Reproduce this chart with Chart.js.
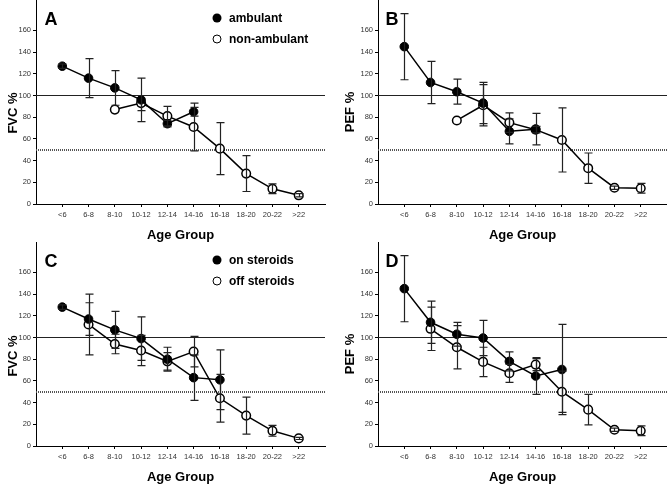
<!DOCTYPE html>
<html>
<head>
<meta charset="utf-8">
<script src="https://cdn.jsdelivr.net/npm/chart.js@4/dist/chart.umd.min.js"></script>
<style>
  body { margin: 0; background: #fff; }
  #wrap { position: relative; width: 667px; height: 484px; font-family: "Liberation Sans", Arial, sans-serif; color: #000; }
  canvas { position: absolute; }
  .ytitle { position: absolute; font-weight: bold; font-size: 13px; line-height: 1; white-space: nowrap; transform: translate(-50%, -50%) rotate(-90deg); }
  .letter { position: absolute; font-weight: bold; font-size: 18px; line-height: 1; transform: translate(-50%, -50%); }
  .dot { position: absolute; width: 9px; height: 9px; border-radius: 50%; box-sizing: border-box; transform: translate(-50%, -50%); }
  .fill { background: #000; }
  .open { background: #fff; border: 1.6px solid #000; }
  .legtxt { position: absolute; font-weight: bold; font-size: 12px; line-height: 1; white-space: nowrap; transform: translateY(-50%); }
</style>
</head>
<body>
<div id="wrap">
  <canvas id="chartA" width="333" height="242" style="left:0;top:0"></canvas>
  <canvas id="chartB" width="334" height="242" style="left:333px;top:0"></canvas>
  <canvas id="chartC" width="333" height="242" style="left:0;top:242px"></canvas>
  <canvas id="chartD" width="334" height="242" style="left:333px;top:242px"></canvas>

  <div class="ytitle" style="left:12px;top:113px">FVC %</div>
  <div class="ytitle" style="left:349px;top:112px">PEF %</div>
  <div class="ytitle" style="left:12px;top:356px">FVC %</div>
  <div class="ytitle" style="left:349px;top:354px">PEF %</div>

  <div class="letter" style="left:51px;top:19px">A</div>
  <div class="letter" style="left:392px;top:19px">B</div>
  <div class="letter" style="left:51px;top:261px">C</div>
  <div class="letter" style="left:392px;top:261px">D</div>

  <div class="dot fill" style="left:217px;top:18px"></div>
  <div class="legtxt" style="left:229px;top:18px">ambulant</div>
  <div class="dot open" style="left:217px;top:39px"></div>
  <div class="legtxt" style="left:229px;top:39px">non-ambulant</div>

  <div class="dot fill" style="left:217px;top:260px"></div>
  <div class="legtxt" style="left:229px;top:260px">on steroids</div>
  <div class="dot open" style="left:217px;top:281px"></div>
  <div class="legtxt" style="left:229px;top:281px">off steroids</div>
</div>

<script>
// x categories
const ageGroups = ['<6', '6-8', '8-10', '10-12', '12-14', '14-16', '16-18', '18-20', '20-22', '>22'];
const yTicks = [0, 20, 40, 60, 80, 100, 120, 140, 160];

// A: FVC, ambulant vs non-ambulant (mean, error)
const fvcAmbulant = [127, 116, 107, 96, 74, 85, null, null, null, null];
const fvcAmbulantErr = [2, 18, 16, 20, 3, 4, 0, 0, 0, 0];
const fvcNonAmbulant = [null, null, 87, 93, 81, 71, 51, 28, 14, 8];
const fvcNonAmbulantErr = [0, 0, 0, 7, 9, 22, 24, 16.5, 4.5, 1.5];

// B: PEF, ambulant vs non-ambulant
const pefAmbulant = [145, 112, 103.5, 93, 67, 69, null, null, null, null];
const pefAmbulantErr = [30.5, 19.5, 11.5, 19, 11.5, 14.5, 0, 0, 0, 0];
const pefNonAmbulant = [null, null, 77, 91, 75, 68.5, 59, 33, 15, 14.5];
const pefNonAmbulantErr = [0, 0, 0, 19, 9, 3, 29.5, 14, 1.5, 4.5];

// C: FVC, on vs off steroids
const fvcOnSteroids = [128, 117, 107, 99, 80, 63, 61, null, null, null];
const fvcOnSteroidsErr = [2, 15, 17, 20, 11, 21, 27.5, 0, 0, 0];
const fvcOffSteroids = [null, 112, 94, 88, 78, 87, 44, 28, 14, 7];
const fvcOffSteroidsErr = [0, 28, 9, 14, 8, 14, 22, 17, 5, 1];

// D: PEF, on vs off steroids
const pefOnSteroids = [145, 114, 103, 99.5, 78, 64.5, 70.5, null, null, null];
const pefOnSteroidsErr = [30.5, 19.5, 11, 16.3, 8.7, 17, 41.5, 0, 0, 0];
const pefOffSteroids = [null, 108, 91, 77.5, 67, 75, 50, 33.5, 15, 14];
const pefOffSteroidsErr = [0, 20, 20, 13.5, 8.3, 5.5, 19, 14, 1.5, 4.5];

const tickFont = { family: '"Liberation Sans", Arial, sans-serif', size: 7.5 };

// turn a value list into {x, y} points, skipping empty groups
function toPoints(values) {
    return values.map((v, i) => v == null ? null : { x: i, y: v }).filter(Boolean);
}

// reference lines at 100 (solid) and 50 (dotted)
const refLines = {
    id: 'refLines',
    beforeDatasetsDraw(chart) {
        const { ctx, chartArea, scales: { y } } = chart;
        ctx.save();
        let py = Math.round(y.getPixelForValue(100)) + 0.5;
        ctx.strokeStyle = '#222';
        ctx.lineWidth = 1.2;
        ctx.beginPath();
        ctx.moveTo(chartArea.left, py);
        ctx.lineTo(chartArea.right, py);
        ctx.stroke();
        py = Math.round(y.getPixelForValue(50));
        ctx.strokeStyle = '#555';
        ctx.lineWidth = 2;
        ctx.setLineDash([1, 1]);
        ctx.beginPath();
        ctx.moveTo(chartArea.left, py);
        ctx.lineTo(chartArea.right, py);
        ctx.stroke();
        ctx.restore();
    }
};

// error bars with caps, drawn over the markers
const errorBars = {
    id: 'errorBars',
    afterDatasetsDraw(chart) {
        const { ctx, scales: { x, y } } = chart;
        ctx.save();
        ctx.strokeStyle = '#222';
        ctx.lineWidth = 1.2;
        chart.data.datasets.forEach(ds => {
            ds.data.forEach(p => {
                const e = ds.errors[p.x];
                if (!e) return;
                const px = Math.round(x.getPixelForValue(p.x)) + 0.5;
                const top = y.getPixelForValue(p.y + e);
                const bot = y.getPixelForValue(p.y - e);
                ctx.beginPath();
                ctx.moveTo(px, top); ctx.lineTo(px, bot);
                ctx.moveTo(px - 4, top); ctx.lineTo(px + 4, top);
                ctx.moveTo(px - 4, bot); ctx.lineTo(px + 4, bot);
                ctx.stroke();
            });
        });
        ctx.restore();
    }
};

const panels = [
    { id: 'chartA', filled: fvcAmbulant, filledErr: fvcAmbulantErr, open: fvcNonAmbulant, openErr: fvcNonAmbulantErr, axisWidth: 36, padRight: 8 },
    { id: 'chartB', filled: pefAmbulant, filledErr: pefAmbulantErr, open: pefNonAmbulant, openErr: pefNonAmbulantErr, axisWidth: 45, padRight: 0 },
    { id: 'chartC', filled: fvcOnSteroids, filledErr: fvcOnSteroidsErr, open: fvcOffSteroids, openErr: fvcOffSteroidsErr, axisWidth: 36, padRight: 8 },
    { id: 'chartD', filled: pefOnSteroids, filledErr: pefOnSteroidsErr, open: pefOffSteroids, openErr: pefOffSteroidsErr, axisWidth: 45, padRight: 0 }
];

panels.forEach(p => {
    new Chart(document.getElementById(p.id), {
        type: 'line',
        data: {
            datasets: [
                {
                    data: toPoints(p.filled), errors: p.filledErr,
                    borderColor: '#000', borderWidth: 1.5,
                    pointRadius: 4.3, pointBackgroundColor: '#000', pointBorderColor: '#000', pointBorderWidth: 1
                },
                {
                    data: toPoints(p.open), errors: p.openErr,
                    borderColor: '#000', borderWidth: 1.5,
                    pointRadius: 4.3, pointBackgroundColor: '#fff', pointBorderColor: '#000', pointBorderWidth: 1.5
                }
            ]
        },
        options: {
            responsive: false,
            animation: false,
            clip: false,
            layout: { autoPadding: false, padding: { left: 0, right: p.padRight, top: 0, bottom: 0 } },
            plugins: { legend: { display: false }, tooltip: { enabled: false } },
            scales: {
                x: {
                    type: 'linear', min: -1, max: 10,
                    afterBuildTicks: s => { s.ticks = ageGroups.map((_, i) => ({ value: i })); },
                    afterFit: s => { s.height = 38; s.paddingLeft = 0; s.paddingRight = 0; },
                    ticks: { callback: v => ageGroups[v], font: tickFont, color: '#333', padding: 3, maxRotation: 0, autoSkip: false },
                    grid: { drawOnChartArea: false, drawTicks: true, tickLength: 3, color: '#000' },
                    border: { color: '#000', width: 1 },
                    title: {
                        display: true, text: 'Age Group', color: '#000', padding: { top: 0, bottom: 0 },
                        font: { family: '"Liberation Sans", Arial, sans-serif', size: 13, weight: 'bold', lineHeight: 1 }
                    }
                },
                y: {
                    min: 0, max: 188,
                    afterBuildTicks: s => { s.ticks = yTicks.map(v => ({ value: v })); },
                    afterFit: s => { s.width = p.axisWidth; s.paddingTop = 0; s.paddingBottom = 0; },
                    ticks: { font: tickFont, color: '#333', padding: 2 },
                    grid: { drawOnChartArea: false, drawTicks: true, tickLength: 3, color: '#000' },
                    border: { color: '#000', width: 1 }
                }
            }
        },
        plugins: [refLines, errorBars]
    });
});
</script>
</body>
</html>
